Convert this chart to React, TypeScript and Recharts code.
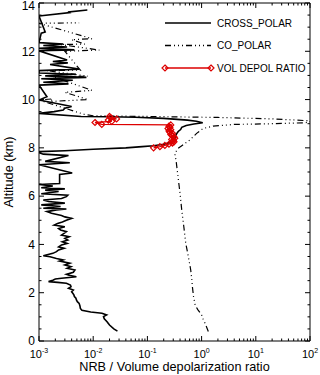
import React from "react";
import { ComposedChart, Line, XAxis, YAxis, Label } from "recharts";

type Pt = [number, number];

const RED = "#dd0000";
const FONT = '"Liberation Sans", Arial, Helvetica, sans-serif';

// axis ticks
const xDecades = [0.001, 0.01, 0.1, 1, 10, 100];
const xDecadeExponents = ["-3", "-2", "-1", "0", "1", "2"];
const xMinorMultiples = [2, 3, 4, 5, 6, 7, 8, 9];
const yMajorTicks = [0, 2, 4, 6, 8, 10, 12, 14];
const yMinorTicks = [
	0.5, 1, 1.5, 2.5, 3, 3.5, 4.5, 5, 5.5, 6.5, 7, 7.5, 8.5, 9, 9.5, 10.5, 11,
	11.5, 12.5, 13, 13.5,
];

// CROSS_POLAR, [altitude km, NRB]
const crossLower: Pt[] = [
	[0.41, 0.028], [0.5, 0.024], [0.66, 0.02], [0.8, 0.018], [0.92, 0.016],
	[1.01, 0.0155], [1.08, 0.0177], [1.15, 0.0145], [1.2, 0.009], [1.27, 0.0062],
	[1.35, 0.0058], [1.45, 0.0057], [1.56, 0.0055], [1.63, 0.0051], [1.7, 0.0049],
	[1.77, 0.0048], [1.84, 0.0045], [1.91, 0.0044], [1.98, 0.0042], [2.04, 0.004],
	[2.11, 0.0043], [2.18, 0.0035], [2.25, 0.0039], [2.32, 0.0038], [2.39, 0.0032],
	[2.43, 0.0022], [2.46, 0.0015], [2.52, 0.0018], [2.57, 0.002], [2.6, 0.0026],
	[2.66, 0.0049], [2.72, 0.0036], [2.76, 0.0032], [2.85, 0.0043], [2.94, 0.0046],
	[3.01, 0.0033], [3.08, 0.0039], [3.15, 0.003], [3.22, 0.0037], [3.31, 0.0024],
	[3.36, 0.0028], [3.42, 0.0021], [3.49, 0.0016], [3.53, 0.0012], [3.6, 0.0016],
	[3.63, 0.0018], [3.7, 0.0021], [3.77, 0.0023], [3.84, 0.0029], [3.9, 0.0023],
	[3.98, 0.0026], [4.04, 0.0033], [4.11, 0.0027], [4.18, 0.0034], [4.25, 0.003],
	[4.32, 0.0036], [4.39, 0.0026], [4.46, 0.0029], [4.53, 0.0032], [4.6, 0.0025],
	[4.66, 0.0023], [4.73, 0.003], [4.8, 0.0019], [4.87, 0.0022], [4.93, 0.0027],
	[5.0, 0.0032], [5.08, 0.004], [5.14, 0.003], [5.2, 0.0026], [5.29, 0.0017],
	[5.36, 0.0014], [5.43, 0.0021], [5.47, 0.0032], [5.5, 0.0012], [5.57, 0.0025],
	[5.64, 0.0011], [5.71, 0.003], [5.78, 0.0015], [5.84, 0.0012], [5.9, 0.0026],
	[5.98, 0.0032], [6.04, 0.0034], [6.1, 0.0011], [6.19, 0.0023], [6.25, 0.0013],
	[6.3, 0.003], [6.35, 0.0011], [6.42, 0.0018], [6.48, 0.001], [6.52, 0.0024],
];
const crossLowFragments: Pt[][] = [
	[[6.9, 0.0024], [6.96, 0.0041]],
	[[7.3, 0.001], [7.38, 0.0037], [7.44, 0.0013]],
	[[7.68, 0.0035], [7.74, 0.0012]],
];
const crossCloud: Pt[] = [
	[7.84, 0.0009], [7.88, 0.003], [7.94, 0.01], [8.0, 0.04], [8.05, 0.08],
	[8.09, 0.13], [8.15, 0.2], [8.22, 0.26], [8.3, 0.3], [8.4, 0.32], [8.5, 0.33],
	[8.6, 0.35], [8.68, 0.37], [8.76, 0.41], [8.85, 0.43], [8.93, 0.52],
	[8.99, 0.72], [9.04, 1.05], [9.1, 0.8], [9.15, 0.55], [9.22, 0.2],
	[9.27, 0.06], [9.29, 0.02], [9.3, 0.006],
];
const crossUpperFragments: Pt[][] = [
	[[9.43, 0.001], [9.5, 0.0019], [9.57, 0.0028]],
	[[9.64, 0.003], [9.71, 0.004]],
	[[9.98, 0.001], [10.12, 0.0014]],
	[
		[10.6, 0.001], [10.65, 0.0035], [10.72, 0.0012], [10.8, 0.0042],
		[10.86, 0.0011], [10.92, 0.0075], [10.98, 0.0013], [11.05, 0.0048],
		[11.1, 0.001],
	],
	[[11.2, 0.001], [11.26, 0.0055]],
	[[11.45, 0.0016], [11.52, 0.0034], [11.58, 0.0018], [11.64, 0.0033]],
	[[12.02, 0.001], [12.06, 0.0045]],
	[[12.12, 0.001], [12.18, 0.0033], [12.24, 0.0012], [12.3, 0.0028], [12.36, 0.001]],
	[[12.75, 0.0011], [12.8, 0.0013]],
	[[13.46, 0.001], [13.6, 0.0037], [13.63, 0.0036], [13.71, 0.0078]],
];

// CO_POLAR, [altitude km, NRB]
const coProfile: Pt[] = [
	[0.39, 1.33], [0.55, 1.25], [0.73, 1.16], [0.9, 1.07], [1.08, 1.0],
	[1.3, 0.85], [1.49, 0.76], [1.84, 0.71], [2.2, 0.68], [2.53, 0.66],
	[2.94, 0.63], [3.49, 0.57], [4.05, 0.51], [4.73, 0.47], [5.43, 0.43],
	[6.12, 0.4], [6.74, 0.37], [7.43, 0.34], [7.77, 0.32], [7.98, 0.37],
	[8.12, 0.45], [8.33, 0.61], [8.6, 0.81], [8.8, 1.06], [8.9, 1.62],
	[8.97, 4], [9.0, 20], [9.04, 80], [9.07, 100], [9.12, 100], [9.2, 20],
	[9.26, 2], [9.3, 0.1], [9.33, 0.01], [9.38, 0.007],
];
const coUpperFragments: Pt[][] = [
	[[9.98, 0.001], [10.03, 0.0018]],
	[[9.92, 0.0016], [10.0, 0.008]],
	[[10.3, 0.003], [10.38, 0.0095]],
	[[10.95, 0.0018], [10.97, 0.008]],
	[[11.2, 0.0014], [11.22, 0.0058]],
	[[12.0, 0.003], [12.05, 0.013]],
	[[12.28, 0.0025], [12.3, 0.007]],
	[[12.48, 0.004], [12.52, 0.0095]],
	[[13.16, 0.001], [13.18, 0.0055]],
];

// VOL DEPOL RATIO, [altitude km, ratio]
const depolRatio: Pt[] = [
	[8.0, 0.13], [8.05, 0.17], [8.1, 0.21], [8.15, 0.25], [8.2, 0.29],
	[8.25, 0.31], [8.3, 0.3], [8.35, 0.28], [8.4, 0.32], [8.45, 0.31],
	[8.5, 0.29], [8.55, 0.27], [8.6, 0.29], [8.65, 0.26], [8.7, 0.25],
	[8.75, 0.27], [8.8, 0.24], [8.85, 0.26], [8.9, 0.25], [8.95, 0.27],
	[8.97, 0.0144], [9.05, 0.0108], [9.1, 0.022], [9.15, 0.019], [9.2, 0.027],
	[9.25, 0.021], [9.3, 0.02],
];

// join segments with a null row so the line breaks between them
const toRows = (segments: Pt[][]) => {
	const rows: { alt: number; v: number | null }[] = [];
	segments.forEach((seg, i) => {
		if (i > 0) rows.push({ alt: seg[0][0], v: null });
		seg.forEach(([alt, v]) => rows.push({ alt, v }));
	});
	return rows;
};

const crossRows = toRows([crossLower, ...crossLowFragments, crossCloud, ...crossUpperFragments]);
const coRows = toRows([coProfile, ...coUpperFragments]);
const depolRows = toRows([depolRatio]);

const xTicks = [
	...xDecades,
	...xDecades.slice(0, -1).flatMap((d) => xMinorMultiples.map((m) => m * d)),
];
const yTicks = [...yMajorTicks, ...yMinorTicks];

const decadeIndex = (v: number) =>
	xDecades.findIndex((d) => Math.abs(d - v) < d * 1e-6);

const BottomTick = ({ x, y, payload }: any) => {
	const i = decadeIndex(payload.value);
	return (
		<g>
			<line x1={x} x2={x} y1={y} y2={y - (i >= 0 ? 5 : 2.5)} stroke="#000" />
			{i >= 0 && (
				<text x={x} y={y + 17} textAnchor="middle" fontSize={11} fill="#000">
					10
					<tspan dy={-5} fontSize={7}>
						{xDecadeExponents[i]}
					</tspan>
				</text>
			)}
		</g>
	);
};

const TopTick = ({ x, y, payload }: any) => {
	const major = decadeIndex(payload.value) >= 0;
	return <line x1={x} x2={x} y1={y} y2={y + (major ? 5 : 2.5)} stroke="#000" />;
};

const LeftTick = ({ x, y, payload }: any) => {
	const major = yMajorTicks.includes(payload.value);
	return (
		<g>
			<line x1={x} x2={x + (major ? 5 : 2.5)} y1={y} y2={y} stroke="#000" />
			{major && (
				// keep the top label inside the picture
				<text x={x - 4} y={Math.max(y + 4.3, 10)} textAnchor="end" fontSize={12} fill="#000">
					{payload.value}
				</text>
			)}
		</g>
	);
};

const RightTick = ({ x, y, payload }: any) => {
	const major = yMajorTicks.includes(payload.value);
	return <line x1={x} x2={x - (major ? 5 : 2.5)} y1={y} y2={y} stroke="#000" />;
};

const Diamond = (props: any) => {
	const { cx, cy, index } = props;
	if (cx == null || cy == null) return <g key={index} />;
	const r = 3;
	return (
		<path
			key={index}
			d={`M${cx},${cy - r}L${cx + r},${cy}L${cx},${cy + r}L${cx - r},${cy}Z`}
			fill="none"
			stroke={RED}
			strokeWidth={1.2}
		/>
	);
};

const legendItems = [
	{ name: "CROSS_POLAR", color: "#000", dash: undefined, marker: false },
	{ name: "CO_POLAR", color: "#000", dash: "6 3 1 3 1 3 1 3", marker: false },
	{ name: "VOL DEPOL RATIO", color: RED, dash: undefined, marker: true },
];

const ChartLegend = () => (
	<svg
		width={155}
		height={70}
		style={{ position: "absolute", left: 160, top: 10, fontFamily: FONT }}
	>
		{legendItems.map((item, i) => {
			const y = 13 + i * 22.5;
			return (
				<g key={item.name}>
					<line
						x1={5}
						x2={51}
						y1={y}
						y2={y}
						stroke={item.color}
						strokeWidth={item.marker ? 1.3 : 1.6}
						strokeDasharray={item.dash}
					/>
					{item.marker && <Diamond cx={5} cy={y} index={0} />}
					{item.marker && <Diamond cx={51} cy={y} index={1} />}
					<text x={57} y={y + 3.6} fontSize={10} fill="#000">
						{item.name}
					</text>
				</g>
			);
		})}
	</svg>
);

export default function App() {
	return (
		<div style={{ position: "absolute", left: 0, top: 0, width: 320, height: 375, background: "#fff", fontFamily: FONT }}>
			<ComposedChart
				width={320}
				height={375}
				layout="vertical"
				margin={{ top: 2, right: 9, bottom: 33, left: 38 }}
			>
				<XAxis
					xAxisId="bottom"
					type="number"
					scale="log"
					domain={[0.001, 100]}
					allowDataOverflow
					ticks={xTicks}
					interval={0}
					height={1}
					tickSize={0}
					tickMargin={0}
					tickLine={false}
					tick={<BottomTick />}
					axisLine={{ stroke: "#000" }}
				>
					<Label
						content={({ viewBox }: any) => (
							<text
								x={viewBox.x + viewBox.width / 2}
								y={viewBox.y + 30}
								textAnchor="middle"
								fontSize={12.7}
								fill="#000"
							>
								NRB / Volume depolarization ratio
							</text>
						)}
					/>
				</XAxis>
				<XAxis
					xAxisId="top"
					orientation="top"
					type="number"
					scale="log"
					domain={[0.001, 100]}
					allowDataOverflow
					ticks={xTicks}
					interval={0}
					height={1}
					tickSize={0}
					tickMargin={0}
					tickLine={false}
					tick={<TopTick />}
					axisLine={{ stroke: "#000" }}
				/>
				<YAxis
					yAxisId="left"
					type="number"
					dataKey="alt"
					domain={[0, 14]}
					reversed
					allowDataOverflow
					ticks={yTicks}
					interval={0}
					width={1}
					tickSize={0}
					tickMargin={0}
					tickLine={false}
					tick={<LeftTick />}
					axisLine={{ stroke: "#000" }}
				>
					<Label
						content={({ viewBox }: any) => {
							const cx = viewBox.x + viewBox.width - 30;
							const cy = viewBox.y + viewBox.height / 2;
							return (
								<text
									x={cx}
									y={cy}
									transform={`rotate(-90 ${cx} ${cy})`}
									textAnchor="middle"
									dominantBaseline="central"
									fontSize={12.7}
									fill="#000"
								>
									Altitude (km)
								</text>
							);
						}}
					/>
				</YAxis>
				<YAxis
					yAxisId="right"
					orientation="right"
					type="number"
					dataKey="alt"
					domain={[0, 14]}
					reversed
					allowDataOverflow
					ticks={yTicks}
					interval={0}
					width={1}
					tickSize={0}
					tickMargin={0}
					tickLine={false}
					tick={<RightTick />}
					axisLine={{ stroke: "#000" }}
				/>
				<Line
					data={coRows}
					xAxisId="bottom"
					yAxisId="left"
					dataKey="v"
					stroke="#000"
					strokeWidth={1.2}
					strokeDasharray="6 3 1 3 1 3 1 3"
					dot={false}
					activeDot={false}
					isAnimationActive={false}
				/>
				<Line
					data={crossRows}
					xAxisId="bottom"
					yAxisId="left"
					dataKey="v"
					stroke="#000"
					strokeWidth={1.6}
					dot={false}
					activeDot={false}
					isAnimationActive={false}
				/>
				<Line
					data={depolRows}
					xAxisId="bottom"
					yAxisId="left"
					dataKey="v"
					stroke={RED}
					strokeWidth={1.3}
					dot={(p: any) => <Diamond key={p.index} {...p} />}
					activeDot={false}
					isAnimationActive={false}
				/>
			</ComposedChart>
			<ChartLegend />
		</div>
	);
}
